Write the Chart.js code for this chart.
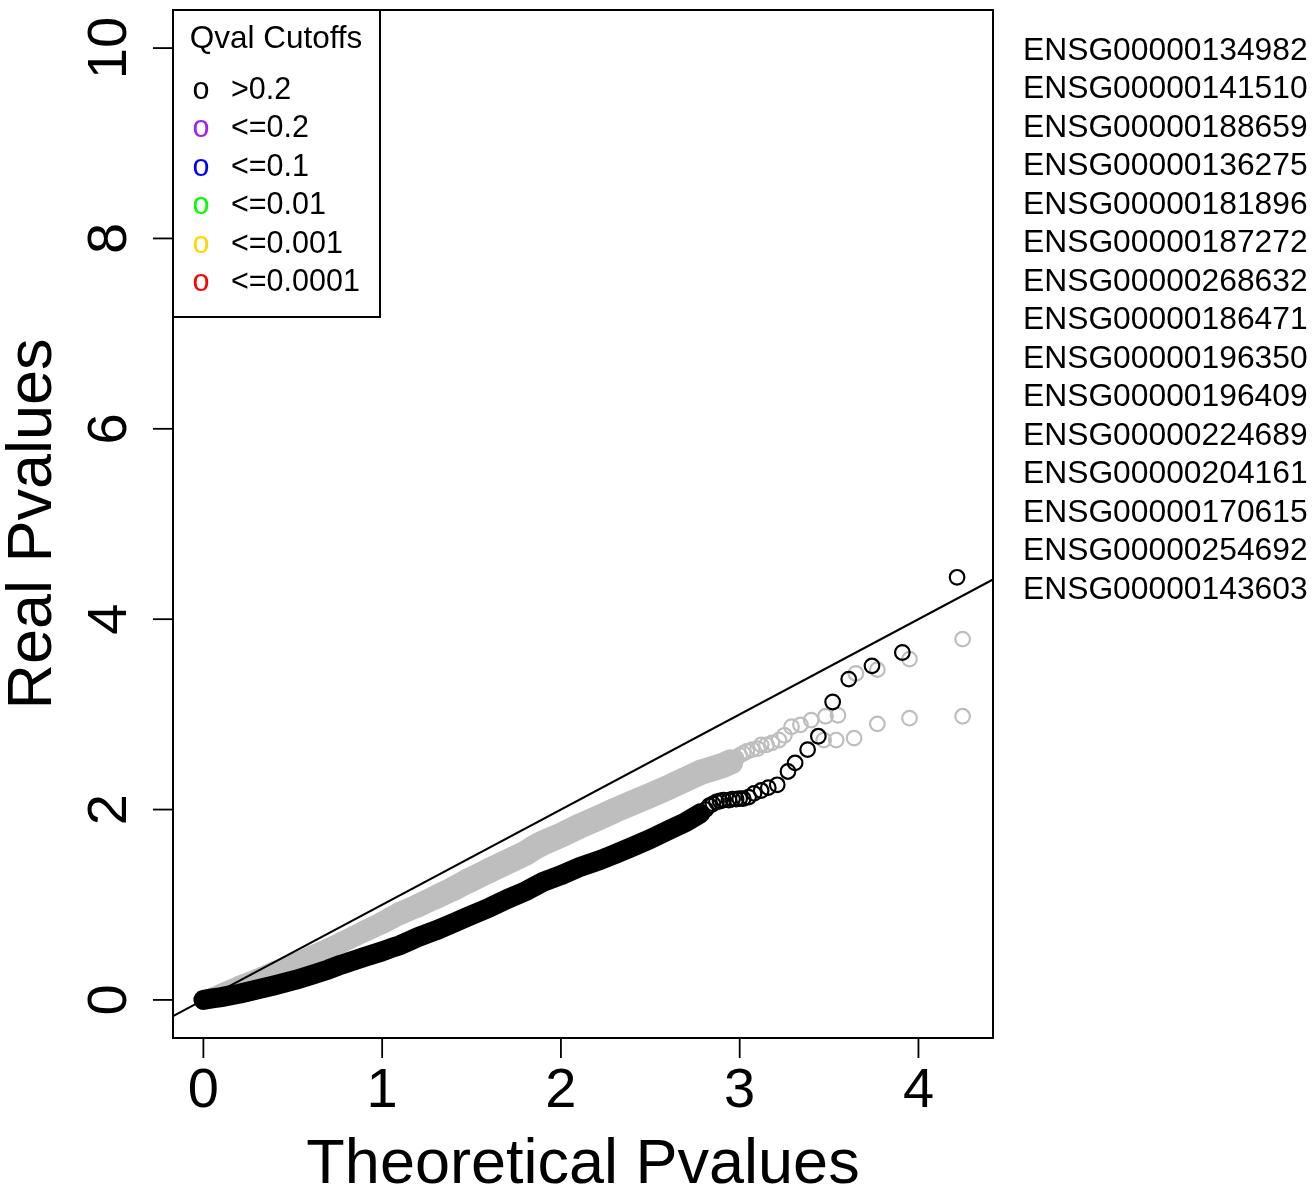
<!DOCTYPE html>
<html>
<head>
<meta charset="utf-8">
<script src="https://cdn.jsdelivr.net/npm/chart.js@4/dist/chart.umd.min.js"></script>
<style>
html,body{margin:0;padding:0;background:#fff;overflow:hidden;}
canvas{display:block;}
</style>
</head>
<body>
<canvas id="c" width="1314" height="1197" style="width:1314px;height:1197px"></canvas>
<script>
// ---- data ----
const blackX = [0, 0.05, 0.1, 0.15, 0.2, 0.3, 0.4, 0.514, 0.6, 0.7, 0.77, 0.9, 1.0, 1.05, 1.1, 1.2, 1.3, 1.4, 1.48, 1.6, 1.7, 1.8, 1.85, 1.9, 2.0, 2.11, 2.22, 2.3, 2.4, 2.5, 2.61, 2.7, 2.78];
const blackY = [0, 0.015, 0.03, 0.048, 0.065, 0.11, 0.155, 0.21, 0.26, 0.32, 0.37, 0.45, 0.51, 0.545, 0.575, 0.66, 0.73, 0.81, 0.875, 0.97, 1.06, 1.14, 1.19, 1.24, 1.31, 1.40, 1.47, 1.53, 1.61, 1.69, 1.79, 1.87, 1.96];
const blackTailX = [2.81, 2.83, 2.85, 2.87, 2.89, 2.91, 2.94, 2.96, 2.98, 3.00, 3.02, 3.05, 3.08, 3.12, 3.16, 3.21, 3.27, 3.31, 3.38, 3.44, 3.52, 3.61, 3.74, 3.91, 4.216];
const blackTailY = [2.00, 2.04, 2.06, 2.08, 2.09, 2.10, 2.10, 2.11, 2.11, 2.115, 2.115, 2.13, 2.17, 2.20, 2.23, 2.26, 2.40, 2.49, 2.63, 2.77, 3.13, 3.37, 3.51, 3.65, 4.44];
const greyX = [0, 0.05, 0.1, 0.2, 0.3, 0.4, 0.514, 0.6, 0.7, 0.77, 0.9, 1.0, 1.05, 1.1, 1.2, 1.3, 1.4, 1.48, 1.6, 1.7, 1.8, 1.85, 1.9, 2.0, 2.11, 2.22, 2.3, 2.4, 2.5, 2.61, 2.7, 2.78, 2.85, 2.9, 2.95];
const greyY = [0, 0.04, 0.08, 0.16, 0.23, 0.31, 0.39, 0.46, 0.54, 0.60, 0.72, 0.81, 0.86, 0.91, 0.99, 1.08, 1.17, 1.25, 1.36, 1.45, 1.54, 1.60, 1.65, 1.73, 1.83, 1.92, 1.99, 2.07, 2.15, 2.24, 2.32, 2.39, 2.43, 2.46, 2.50];
const greyTailX = [2.98, 3.00, 3.02, 3.04, 3.07, 3.10, 3.12, 3.15, 3.18, 3.22, 3.25, 3.29, 3.34, 3.40, 3.47, 3.48, 3.54, 3.55, 3.64, 3.65, 3.77, 3.77, 3.95, 3.95, 4.247, 4.247];
const greyTailY = [2.54, 2.57, 2.59, 2.61, 2.63, 2.64, 2.68, 2.68, 2.70, 2.73, 2.78, 2.87, 2.89, 2.94, 2.73, 2.98, 2.73, 2.99, 2.75, 3.43, 2.90, 3.47, 2.96, 3.58, 2.98, 3.79];
const diagX = [-1, 6];
const diagY = [-1, 6];
const xTicks = [0, 1, 2, 3, 4];
const yTicks = [0, 2, 4, 6, 8, 10];
const legendTitle = "Qval Cutoffs";
const legendLabels = [">0.2", "<=0.2", "<=0.1", "<=0.01", "<=0.001", "<=0.0001"];
const legendColors = ["#000000", "#A020F0", "#0000FF", "#00FF00", "#FFD700", "#FF0000"];
const geneIds = ["ENSG00000134982","ENSG00000141510","ENSG00000188659","ENSG00000136275","ENSG00000181896","ENSG00000187272","ENSG00000268632","ENSG00000186471","ENSG00000196350","ENSG00000196409","ENSG00000224689","ENSG00000204161","ENSG00000170615","ENSG00000254692","ENSG00000143603"];
const xTitle = "Theoretical Pvalues";
const yTitle = "Real Pvalues";

const FONT = '"Liberation Sans", Arial, Helvetica, sans-serif';
const GREY = "#BEBEBE";
const toPts = (xs, ys) => xs.map((x, i) => ({x: x, y: ys[i]}));

const decor = {
  id: 'decor',
  afterDraw(chart) {
    const ctx = chart.ctx;
    const a = chart.chartArea;
    const sx = chart.scales.x, sy = chart.scales.y;
    ctx.save();
    ctx.strokeStyle = '#000';
    ctx.fillStyle = '#000';
    // plot box
    ctx.lineWidth = 2;
    ctx.strokeRect(a.left, a.top, a.right - a.left, a.bottom - a.top);
    // x ticks
    ctx.lineWidth = 1.8;
    ctx.font = '56px ' + FONT;
    ctx.textAlign = 'center';
    ctx.textBaseline = 'alphabetic';
    xTicks.forEach(v => {
      const px = sx.getPixelForValue(v);
      ctx.beginPath(); ctx.moveTo(px, a.bottom); ctx.lineTo(px, a.bottom + 20); ctx.stroke();
      ctx.fillText(String(v), px, a.bottom + 69);
    });
    // y ticks
    yTicks.forEach(v => {
      const py = sy.getPixelForValue(v);
      ctx.beginPath(); ctx.moveTo(a.left, py); ctx.lineTo(a.left - 20, py); ctx.stroke();
      ctx.save();
      ctx.translate(a.left - 47, py);
      ctx.rotate(-Math.PI / 2);
      ctx.fillText(String(v), 0, 0);
      ctx.restore();
    });
    // axis titles
    ctx.font = '63px ' + FONT;
    ctx.fillText(xTitle, (a.left + a.right) / 2, 1183);
    ctx.save();
    ctx.translate(51, (a.top + a.bottom) / 2);
    ctx.rotate(-Math.PI / 2);
    ctx.fillText(yTitle, 0, 0);
    ctx.restore();
    // legend
    ctx.lineWidth = 2;
    ctx.fillStyle = '#fff';
    ctx.fillRect(a.left, a.top, 207, 307);
    ctx.strokeRect(a.left, a.top, 207, 307);
    ctx.fillStyle = '#000';
    ctx.font = '31.5px ' + FONT;
    ctx.textAlign = 'center';
    ctx.fillText(legendTitle, a.left + 103, a.top + 38);
    ctx.font = '30.5px ' + FONT;
    legendLabels.forEach((lab, i) => {
      const by = a.top + 89 + i * 38.4;
      ctx.fillStyle = legendColors[i];
      ctx.textAlign = 'center';
      ctx.fillText('o', a.left + 28, by);
      ctx.fillStyle = '#000';
      ctx.textAlign = 'left';
      ctx.fillText(lab, a.left + 58, by);
    });
    // gene list
    ctx.font = '31.8px ' + FONT;
    ctx.textAlign = 'left';
    geneIds.forEach((g, i) => {
      ctx.fillText(g, 1023, 59.5 + i * 38.5);
    });
    ctx.restore();
  }
};

const ptStyle = (col) => ({
  pointStyle: 'circle',
  pointRadius: 7.3,
  pointHoverRadius: 7.3,
  pointBorderWidth: 2.2,
  pointBorderColor: col,
  pointBackgroundColor: 'rgba(0,0,0,0)'
});

new Chart(document.getElementById('c'), {
  type: 'scatter',
  data: {
    datasets: [
      {
        label: 'y=x', data: toPts(diagX, diagY), showLine: true,
        borderColor: '#000', borderWidth: 2, pointRadius: 0, clip: 0
      },
      Object.assign({ label: 'black tail', data: toPts(blackTailX, blackTailY), showLine: false, clip: false }, ptStyle('#000')),
      Object.assign({
        label: 'black', data: toPts(blackX, blackY), showLine: true,
        borderColor: '#000', borderWidth: 20, borderCapStyle: 'round', borderJoinStyle: 'round', clip: false
      }, ptStyle('#000')),
      Object.assign({ label: 'grey tail', data: toPts(greyTailX, greyTailY), showLine: false, clip: false }, ptStyle(GREY)),
      Object.assign({
        label: 'grey', data: toPts(greyX, greyY), showLine: true,
        borderColor: GREY, borderWidth: 24, borderCapStyle: 'round', borderJoinStyle: 'round', clip: false,
        segment: { borderWidth: c => 17 + Math.min(c.p0.parsed.x, 1.5) * 5.5 }
      }, ptStyle(GREY))
    ]
  },
  options: {
    responsive: false,
    devicePixelRatio: 1,
    animation: false,
    events: [],
    layout: { padding: { left: 173, top: 10, right: 321, bottom: 159 } },
    plugins: { legend: { display: false }, tooltip: { enabled: false } },
    scales: {
      x: { type: 'linear', min: -0.17, max: 4.417, display: false },
      y: { type: 'linear', min: -0.4, max: 10.4, display: false }
    }
  },
  plugins: [decor]
});
</script>
</body>
</html>
